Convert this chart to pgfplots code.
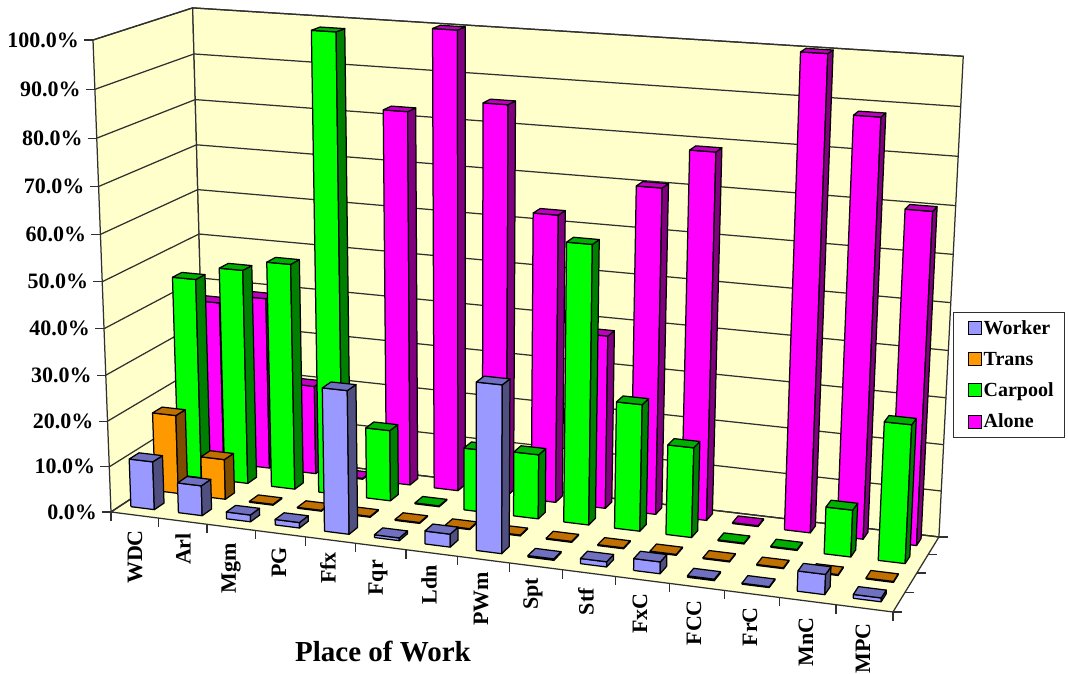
\documentclass[border=0pt]{standalone}
\usepackage{pgfplots}
\usepackage{pgfplotstable}
\usepackage{fontspec}
\setmainfont{Liberation Serif}
\pgfplotsset{compat=1.18}

% Share of commuters by place of work, in percent
\pgfplotstableread{
cat Worker Trans Carpool Alone
0   10.6   17.5  44.7    36.7
1   6.6    8.9   47.7    38.7
2   1.5    0.2   50.0    20.0
3   1.2    0.2   100.0   0.2
4   30.9   0.2   15.7    82.2
5   0.6    0.2   0.2     100.0
6   2.8    0.2   13.7    85.2
7   35.6   0.2   14.1    62.8
8   0.3    0.2   60.1    37.9
9   1.1    0.2   27.4    70.3
10  2.5    0.2   19.4    78.6
11  0.3    0.2   0.2     0.2
12  0.2    0.2   0.2     100.0
13  4.2    0.2   10.0    88.1
14  0.8    0.2   29.2    70.0
}\commute

\definecolor{wall}{HTML}{FFFFCC}
\definecolor{gridc}{HTML}{303030}
\pgfplotsset{
  face/.style={line width=1.25pt,draw=black,line join=round,forget plot},
  worker front/.style={face,fill={rgb,255:red,153;green,153;blue,255}},
  worker side/.style={face,fill={rgb,255:red,80;green,80;blue,128}},
  worker top/.style={face,fill={rgb,255:red,112;green,112;blue,192}},
  trans front/.style={face,fill={rgb,255:red,255;green,153;blue,0}},
  trans side/.style={face,fill={rgb,255:red,128;green,76;blue,0}},
  trans top/.style={face,fill={rgb,255:red,192;green,112;blue,0}},
  carpool front/.style={face,fill={rgb,255:red,0;green,255;blue,0}},
  carpool side/.style={face,fill={rgb,255:red,0;green,128;blue,0}},
  carpool top/.style={face,fill={rgb,255:red,0;green,176;blue,0}},
  alone front/.style={face,fill={rgb,255:red,255;green,0;blue,255}},
  alone side/.style={face,fill={rgb,255:red,128;green,0;blue,128}},
  alone top/.style={face,fill={rgb,255:red,192;green,0;blue,192}},
  wallface/.style={line width=1.25pt,draw=gridc,fill=wall,forget plot},
  gridline/.style={line width=1.25pt,draw=gridc,forget plot},
}

% Perspective projection of the chart box: X along the places of work,
% Y along the depth of the series, Z along the height, all from 0 to 1.
\newcommand\proj[4]{%
  \pgfmathsetmacro\pw{1-0.09087*#2+0.07109*#3-0.048*#4}%
  \pgfmathsetmacro\px{(700.85*#2+108.57*#3+111-22.46*#4)/\pw}%
  \pgfmathsetmacro\py{673-(44.39*#2-30.01*#3+512-473.92*#4)/\pw}%
  \edef#1{(\px,\py)}}

% One box: place index, series index, value in percent, style prefix
\newcommand\drawbox[4]{%
  \pgfmathsetmacro\xl{(#1+0.21)/15}%
  \pgfmathsetmacro\xr{(#1+0.705)/15}%
  \pgfmathsetmacro\yf{(#2+0.4)/4}%
  \pgfmathsetmacro\yb{(#2+0.8)/4}%
  \pgfmathsetmacro\zt{#3/100}%
  \proj\pa\xl\yf{0}\proj\pb\xr\yf{0}\proj\pc\xr\yb{0}%
  \proj\pd\xl\yf\zt\proj\pe\xr\yf\zt\proj\pf\xr\yb\zt\proj\pg\xl\yb\zt
  \edef\faces{%
    \noexpand\addplot[#4 front] coordinates {\pa\pb\pe\pd\pa};
    \noexpand\addplot[#4 side] coordinates {\pb\pc\pf\pe\pb};
    \noexpand\addplot[#4 top] coordinates {\pd\pe\pf\pg\pd};}%
  \faces}

\newcommand\drawrow[3]{%
  \pgfplotstableforeachcolumnelement{#1}\of\commute\as\val{%
    \edef\rowidx{\pgfplotstablerow}%
    \drawbox{\rowidx}{#2}{\val}{#3}}}

\newcommand\tickfont{\fontsize{22}{25}\selectfont\bfseries}
\newcommand\keyfont{\fontsize{20}{25}\selectfont\bfseries}

\begin{document}
\begin{tikzpicture}
\fill[white] (0pt,0pt) rectangle (1068pt,673pt);
\begin{axis}[
  at={(0pt,0pt)},anchor=south west,
  width=1068pt,height=673pt,scale only axis,
  xmin=0,xmax=1068,ymin=0,ymax=673,
  hide axis,
  legend cell align=left,
  legend image code/.code={%
    \path (0pt,0pt);
    \draw[#1,draw=black,line width=0.9pt] (5pt,-6.5pt) rectangle (18pt,6.5pt);},
  legend style={at={(0.8923,0.5364)},anchor=north west,draw=gridc,line width=1.2pt,
    fill=white,font=\keyfont,row sep=12pt,inner xsep=9pt,inner ysep=6pt,
    /tikz/every even column/.append style={column sep=7pt}},
]
% walls and floor
\proj\ca{0}{0}{0}\proj\cb{1}{0}{0}\proj\cc{1}{1}{0}\proj\cd{0}{1}{0}
\proj\ce{0}{0}{1}\proj\cf{0}{1}{1}\proj\cg{1}{1}{1}
\edef\walls{%
  \noexpand\addplot[wallface] coordinates {\ca\cd\cf\ce\ca};
  \noexpand\addplot[wallface] coordinates {\cd\cc\cg\cf\cd};
  \noexpand\addplot[wallface] coordinates {\ca\cb\cc\cd\ca};}
\walls

% gridlines and ticks of the value scale, with their labels
\pgfplotsinvokeforeach{0,10,...,100}{%
  \pgfmathsetmacro\zk{#1/100}%
  \proj\pa{0}{0}{\zk}\proj\pb{0}{1}{\zk}\proj\pc{1}{1}{\zk}%
  \edef\seg{\noexpand\addplot[gridline] coordinates {\pa\pb\pc};}\seg
  \proj\pa{0}{0}{\zk}%
  \pgfmathsetmacro\tx{\px-9}\pgfmathsetmacro\lx{\px-14}%
  \edef\seg{\noexpand\addplot[gridline] coordinates {(\tx,\py)(\px,\py)};
    \noexpand\node[anchor=east,font=\noexpand\tickfont,inner sep=0pt]
      at (axis cs:\lx,\py) {#1.0\noexpand\%};}\seg}

% ticks along the front and right floor edges
\pgfplotsinvokeforeach{0,1,...,15}{%
  \pgfmathsetmacro\xk{#1/15}%
  \proj\pa{\xk}{0}{0}%
  \pgfmathsetmacro\ty{\py-9}%
  \edef\seg{\noexpand\addplot[gridline] coordinates {(\px,\py)(\px,\ty)};}\seg}
\pgfplotsinvokeforeach{0,1,...,4}{%
  \pgfmathsetmacro\yk{#1/4}%
  \proj\pa{1}{\yk}{0}%
  \pgfmathsetmacro\tx{\px+9}%
  \edef\seg{\noexpand\addplot[gridline] coordinates {(\px,\py)(\tx,\py)};}\seg}

% the series, from the back row to the front row
\drawrow{Alone}{3}{alone}
\drawrow{Carpool}{2}{carpool}
\drawrow{Trans}{1}{trans}
\drawrow{Worker}{0}{worker}

% place-of-work labels
\tikzset{placelabel/.style={rotate=90,anchor=east,font=\tickfont,inner sep=0pt}}
\node[placelabel] at (axis cs:135,143) {WDC};
\node[placelabel] at (axis cs:183,140) {Arl};
\node[placelabel] at (axis cs:231,130) {Mgm};
\node[placelabel] at (axis cs:279,126) {PG};
\node[placelabel] at (axis cs:328,121) {Ffx};
\node[placelabel] at (axis cs:378,113) {Fqr};
\node[placelabel] at (axis cs:429,108) {Ldn};
\node[placelabel] at (axis cs:481,101) {PWm};
\node[placelabel] at (axis cs:533,95) {Spt};
\node[placelabel] at (axis cs:586,85) {Stf};
\node[placelabel] at (axis cs:640,80) {FxC};
\node[placelabel] at (axis cs:694,73) {FCC};
\node[placelabel] at (axis cs:750,66) {FrC};
\node[placelabel] at (axis cs:806,56) {MnC};
\node[placelabel] at (axis cs:863,50) {MPC};

\node[font=\fontsize{29}{33}\selectfont\bfseries,anchor=center] at (axis cs:383,21) {Place of Work};

% legend
\addlegendimage{fill={rgb,255:red,153;green,153;blue,255}}
\addlegendentry{Worker}
\addlegendimage{fill={rgb,255:red,255;green,153;blue,0}}
\addlegendentry{Trans}
\addlegendimage{fill={rgb,255:red,0;green,255;blue,0}}
\addlegendentry{Carpool}
\addlegendimage{fill={rgb,255:red,255;green,0;blue,255}}
\addlegendentry{Alone}
\end{axis}
\pgfresetboundingbox
\path[use as bounding box] (0pt,0pt) rectangle (1068pt,673pt);
\end{tikzpicture}
\end{document}
